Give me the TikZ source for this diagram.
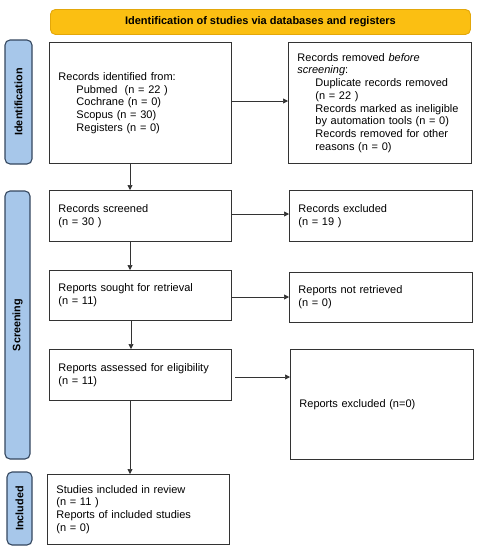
\documentclass[tikz,border=0pt]{standalone}
\usepackage{fontspec}
\setmainfont{Liberation Sans}
\usetikzlibrary{arrows.meta}
\definecolor{hdrfill}{HTML}{FBBF12}
\definecolor{hdrdraw}{HTML}{E3A70A}
\definecolor{barfill}{HTML}{A7C7EA}
\definecolor{bardraw}{HTML}{34475F}
\definecolor{boxdraw}{HTML}{333333}
\begin{document}
\begin{tikzpicture}[x=1pt,y=-1pt,
  font=\fontsize{11}{12.75}\selectfont,
  box/.style={draw=boxdraw,line width=0.9pt,rectangle,inner xsep=9pt,inner ysep=0pt,align=left,anchor=north west},
  bar/.style={draw=bardraw,fill=barfill,line width=1.1pt,rounded corners=5pt,rotate=90,inner sep=0pt,font=\fontsize{10.8}{12}\selectfont\bfseries},
  arr/.style={-{Triangle[length=5pt,width=5pt]},draw=boxdraw,line width=0.7pt}]
\useasboundingbox (0,0) rectangle (480,550);
% header
\node[draw=hdrdraw,fill=hdrfill,line width=0.9pt,rounded corners=5pt,minimum width=420pt,minimum height=25pt,anchor=north west,inner sep=0pt,font=\fontsize{11}{12}\selectfont\bfseries] (hdr) at (50,9) {Identification of studies via databases and registers};
% side bars
\node[bar,minimum width=124pt,minimum height=27pt] (bid) at (18.5,102) {Identification};
\node[bar,minimum width=268pt,minimum height=25pt] (bsc) at (17.5,325) {Screening};
\node[bar,minimum width=73pt,minimum height=25pt] (bin) at (19.5,508.5) {Included};
% boxes
\node[box,minimum width=182pt,minimum height=121pt,text width=164pt] (ident) at (49,42) {Records identified from:\\
\hspace*{18pt}Pubmed\ \ (n = 22 )\\
\hspace*{18pt}Cochrane (n = 0)\\
\hspace*{18pt}Scopus (n = 30)\\
\hspace*{18pt}Registers (n = 0)};
\node[box,minimum width=183pt,minimum height=121pt,text width=165pt] (removed) at (288,42) {Records removed \textit{before}\\
\textit{screening}:\\
\hspace*{18pt}Duplicate records removed\\
\hspace*{18pt}(n = 22 )\\
\hspace*{18pt}Records marked as ineligible\\
\hspace*{18pt}by automation tools (n = 0)\\
\hspace*{18pt}Records removed for other\\
\hspace*{18pt}reasons (n = 0)};
\node[box,minimum width=182pt,minimum height=51pt,text width=164pt] (screened) at (49,190) {Records screened\\(n = 30 )};
\node[box,minimum width=183pt,minimum height=51pt,text width=165pt] (excluded) at (289,190) {Records excluded\\(n = 19 )};
\node[box,minimum width=182pt,minimum height=50pt,text width=164pt] (sought) at (49,270) {Reports sought for retrieval\\(n = 11)};
\node[box,minimum width=183pt,minimum height=50pt,text width=165pt] (notret) at (289,272) {Reports not retrieved\\(n = 0)};
\node[box,minimum width=182pt,minimum height=51pt,text width=164pt] (assessed) at (49,349) {Reports assessed for eligibility\\(n = 11)};
\node[box,minimum width=183pt,minimum height=110pt,text width=165pt] (repexcl) at (290,349) {Reports excluded (n=0)};
\node[box,minimum width=182pt,minimum height=70pt,text width=164pt] (incl) at (47,474) {Studies included in review\\(n = 11 )\\Reports of included studies\\(n = 0)};
% connectors
\draw[arr] (ident.east |- 0,101) -- (removed.west |- 0,101);
\draw[arr] (screened.east |- 0,214) -- (excluded.west |- 0,214);
\draw[arr] (sought.east |- 0,297) -- (notret.west |- 0,297);
\coordinate (aeStart) at (235,377);
\draw[arr] (aeStart) -- (repexcl.west |- aeStart);
\draw[arr] (130,163) -- (screened.north -| 130,0);
\draw[arr] (130,241) -- (sought.north -| 130,0);
\draw[arr] (131,320) -- (assessed.north -| 131,0);
\draw[arr] (130,400) -- (incl.north -| 130,0);
\end{tikzpicture}
\end{document}
